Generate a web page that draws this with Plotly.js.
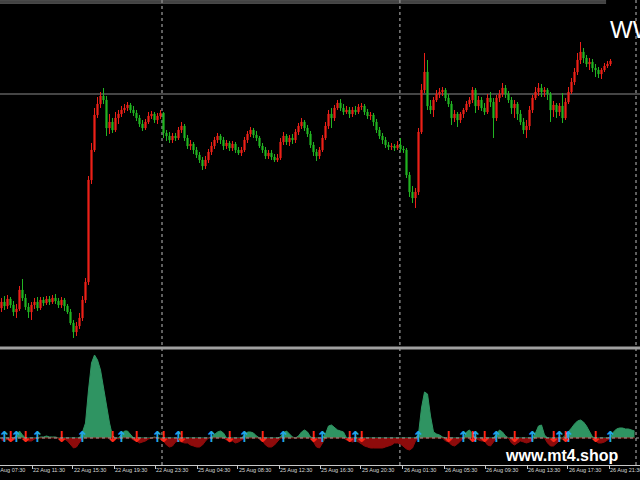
<!DOCTYPE html>
<html><head><meta charset="utf-8">
<script src="https://cdn.plot.ly/plotly-3.0.1.min.js"></script>
<style>html,body{margin:0;padding:0;background:#000;}#chart{width:640px;height:480px;}</style>
</head><body><div id="chart"></div>
<script>
// Price bars (arbitrary price units)
const OPEN = [42,48,44,51,45,38,41,60,52,43,
38,45,48,42,50,47,51,48,52,49,
45,50,44,38,27,18,24,32,50,68,
170,200,235,246,254,250,222,228,220,232,
236,240,242,245,240,237,232,226,222,228,
234,236,230,234,237,217,214,210,214,212,
220,224,212,204,206,200,195,190,184,190,
198,204,210,214,210,204,207,202,206,200,
197,200,210,216,220,215,212,204,200,194,
197,193,190,192,208,214,208,212,210,218,
224,228,222,216,205,198,194,200,212,224,
236,232,242,247,242,238,240,236,240,238,
243,244,238,234,235,228,220,214,210,205,
203,204,202,205,201,200,175,158,152,158,
218,260,278,244,240,250,256,258,260,252,
246,232,236,230,236,240,246,250,260,244,
250,242,238,252,248,232,252,256,262,256,
250,242,246,236,228,220,224,240,252,258,
262,258,260,256,240,245,238,244,232,248,
258,268,278,290,298,292,286,288,282,280,
276,280,284,286];
const HIGH = [52,54,55,53,49,46,64,71,56,47,
48,52,53,53,53,54,54,55,56,52,
53,52,46,41,30,28,37,54,72,174,
207,242,253,258,262,254,236,232,238,240,
244,246,248,247,244,240,235,230,231,238,
239,238,237,240,238,220,218,217,217,223,
228,226,215,210,208,203,198,193,194,201,
208,213,217,216,213,210,209,209,208,203,
203,213,219,223,222,219,214,207,203,200,
200,196,196,212,218,216,215,216,221,227,
232,230,225,219,208,201,203,215,228,240,
242,245,250,251,246,244,243,243,244,246,
247,246,241,238,237,231,223,217,213,208,
207,206,209,212,204,202,178,164,162,222,
266,297,290,250,253,260,262,263,262,256,
249,240,238,238,242,249,253,263,262,254,
253,247,256,258,252,255,260,267,265,259,
253,250,248,240,232,230,244,255,263,267,
266,263,262,258,249,247,247,257,252,263,
272,282,297,308,302,295,292,291,286,283,
282,287,289,291];
const LOW = [38,40,41,42,34,32,39,49,40,32,
30,41,39,40,44,45,45,46,46,42,
42,39,36,25,12,14,21,29,47,65,
166,198,232,242,246,214,216,217,218,226,
233,237,239,237,234,229,223,219,220,226,
231,227,226,231,212,209,207,207,209,210,
217,209,201,200,196,192,187,180,181,187,
195,201,207,206,200,201,199,199,197,195,
194,198,207,213,212,209,202,197,191,191,
190,188,188,190,205,205,204,206,207,215,
221,219,213,202,194,189,191,198,210,221,
222,229,240,239,235,236,232,233,235,236,
240,235,231,230,224,217,211,206,202,200,
200,199,200,198,197,172,153,147,142,155,
216,257,240,236,233,248,252,254,249,243,
225,228,223,227,232,238,243,247,237,240,
239,235,236,243,212,229,248,253,252,247,
236,232,230,225,216,212,220,237,250,254,
253,253,250,228,233,232,234,227,230,246,
256,265,275,286,287,283,280,278,273,272,
271,278,282,284];
const CLOSE = [48,44,51,45,38,41,60,52,43,38,
45,48,42,50,47,51,48,52,49,45,
50,44,38,27,18,24,32,50,68,170,
200,235,246,254,250,222,228,220,232,236,
240,242,245,240,237,232,226,222,228,234,
236,230,234,237,217,214,210,214,212,220,
224,212,204,206,200,195,190,184,190,198,
204,210,214,210,204,207,202,206,200,197,
200,210,216,220,215,212,204,200,194,197,
193,190,192,208,214,208,212,210,218,224,
228,222,216,205,198,194,200,212,224,236,
232,242,247,242,238,240,236,240,238,243,
244,238,234,235,228,220,214,210,205,203,
204,202,205,201,200,175,158,152,158,218,
260,278,244,240,250,256,258,260,252,246,
232,236,230,236,240,246,250,260,244,250,
242,238,252,248,232,252,256,262,256,250,
242,246,236,228,220,224,240,252,258,262,
258,260,256,240,245,238,244,232,248,258,
268,278,290,298,292,286,288,282,280,276,
280,284,286,289];
// Lower oscillator panel (one value per bar)
const OSC = [-2,-3,-1,-3,-2,2,7,3,-2,-3,
-3,-1,0,1,1,2,1,1,1,0,
-2,-1,-3,-7,-10,-9,-4,6,15,48,
75,83,78,68,50,33,15,2,0,-1,
3,7,7,3,-2,-3,-5,-4,-3,-1,
0,1,0,-1,-3,-7,-9,-8,-4,-3,
-4,-5,-5,-7,-8,-9,-9,-7,-3,0,
1,4,6,7,5,-2,-4,-3,-5,-4,
-2,3,6,6,5,2,0,-3,-7,-9,
-9,-7,-3,1,5,7,4,1,0,2,
6,8,6,1,-4,-9,-10,-5,4,12,
13,10,8,7,6,-2,-3,-4,-3,-4,
-6,-8,-9,-10,-10,-10,-10,-10,-9,-8,
-7,-5,-5,-6,-9,-11,-12,-10,-3,4,
30,46,44,22,6,4,3,1,-3,-4,
-7,-8,-6,-3,0,6,8,4,0,-2,
-3,-3,-7,-8,-4,4,8,6,2,0,
-5,-7,-5,-3,-4,-5,-4,-2,5,12,
13,3,-5,-8,-8,-5,-2,0,3,6,
10,14,17,18,16,12,6,1,-3,-5,
-5,-4,-2,1,6,9,10,10,9,9,
8,7];
const UP_ARROWS = [1,5,12,27,40,52,59,70,81,94,107,118,139,154,158,165,177,186,189,203];
const DOWN_ARROWS = [3,8,20,37,45,54,60,76,87,104,116,120,149,157,161,171,184,188,198];
const TICK_LABELS = ["22 Aug 07:30","22 Aug 11:30","22 Aug 15:30","22 Aug 19:30","22 Aug 23:30",
"25 Aug 04:30","25 Aug 08:30","25 Aug 12:30","25 Aug 16:30","25 Aug 20:30",
"26 Aug 01:30","26 Aug 05:30","26 Aug 09:30","26 Aug 13:30","26 Aug 17:30","26 Aug 21:30"];
const TICK_BARS = [-3.2,10.2,23.8,37.5,51.2,65.2,78.8,92.5,106.2,119.8,133.8,147.5,161.2,175.2,188.8,202.5];
const DAY_SEPARATORS = [53.5,132.8,211.5];
const LEVEL = 256;

const XR = [-0.5, 212.83];
const pxPerBar = 640 / (XR[1] - XR[0]);
const bars = OPEN.map((_, i) => i);
const oscX = OSC.map((_, i) => i);
const oscPos = OSC.map(v => v > 0 ? v : 0);
const oscNeg = OSC.map(v => v < 0 ? v : 0);

const traces = [
  {type:'candlestick', x:bars, open:OPEN, high:HIGH, low:LOW, close:CLOSE, xaxis:'x', yaxis:'y',
   increasing:{line:{color:'#ec2119', width:1}, fillcolor:'#ec2119'},
   decreasing:{line:{color:'#22b422', width:1}, fillcolor:'#22b422'},
   whiskerwidth:0, hoverinfo:'skip', showlegend:false},
  {type:'scatter', mode:'lines', x:oscX, y:oscPos, xaxis:'x', yaxis:'y2', fill:'tozeroy',
   fillcolor:'#2f9462', line:{color:'#2f9462', width:1}, hoverinfo:'skip', showlegend:false},
  {type:'scatter', mode:'lines', x:oscX, y:oscNeg, xaxis:'x', yaxis:'y2', fill:'tozeroy',
   fillcolor:'#8e0b0b', line:{color:'#8e0b0b', width:1}, hoverinfo:'skip', showlegend:false},
  {type:'scatter', mode:'text', x:UP_ARROWS, y:UP_ARROWS.map(() => 0), xaxis:'x', yaxis:'y2',
   text:UP_ARROWS.map(() => '↑'), textposition:'middle center',
   textfont:{color:'#22a8e6', size:15, family:'DejaVu Sans', weight:'bold'}, hoverinfo:'skip', showlegend:false},
  {type:'scatter', mode:'text', x:DOWN_ARROWS, y:DOWN_ARROWS.map(() => 0), xaxis:'x', yaxis:'y2',
   text:DOWN_ARROWS.map(() => '↓'), textposition:'middle center',
   textfont:{color:'#ff2a1a', size:15, family:'DejaVu Sans', weight:'bold'}, hoverinfo:'skip', showlegend:false}
];

const shapes = [];
DAY_SEPARATORS.forEach(d => shapes.push({type:'line', xref:'x', yref:'paper', x0:d, x1:d, y0:0, y1:1,
  line:{color:'#bdbdbd', width:1, dash:'dot'}, layer:'below'}));
shapes.push({type:'line', xref:'paper', yref:'y', x0:0, x1:1, y0:LEVEL, y1:LEVEL, line:{color:'#8a8a8a', width:1}, layer:'below'});
shapes.push({type:'line', xref:'paper', yref:'y2', x0:0, x1:1, y0:0, y1:0, line:{color:'#a0a0a0', width:1, dash:'dot'}, layer:'above'});
shapes.push({type:'line', xref:'paper', yref:'paper', x0:0, x1:1, y0:0.2516, y1:0.2516, line:{color:'#a0a0a0', width:3}});
shapes.push({type:'line', xref:'paper', yref:'paper', x0:0, x1:0.947, y0:0.9979, y1:0.9979, line:{color:'#8c8c8c', width:1}});
shapes.push({type:'line', xref:'paper', yref:'paper', x0:0, x1:0.947, y0:0.9935, y1:0.9935, line:{color:'#8c8c8c', width:1}});

const annotations = TICK_LABELS.map((t, k) => {
  const pos = TICK_BARS[k];
  const inRange = pos >= XR[0];
  return {xref:'x', yref:'paper', x: inRange ? pos : XR[0], xshift: inRange ? 0 : (pos - XR[0]) * pxPerBar,
    y:0, yanchor:'top', yshift:-1, xanchor:'left', text:t, showarrow:false, borderpad:0,
    font:{family:'Liberation Sans, Arial, sans-serif', size:5.5, color:'#d8d8d8'}};
});
annotations.push({xref:'paper', yref:'paper', x:0.9516, y:0.9376, xanchor:'left', yanchor:'middle', text:'WW',
  showarrow:false, borderpad:0, font:{family:'Liberation Sans, Arial, sans-serif', size:24, color:'#ffffff'}});
annotations.push({xref:'paper', yref:'paper', x:0.7875, y:0.0194, xanchor:'left', yanchor:'middle', text:'www.mt4.shop',
  showarrow:false, borderpad:0, font:{family:'Liberation Sans, Arial, sans-serif', size:16, color:'#ffffff', weight:'bold'}});

const layout = {
  width:640, height:480, paper_bgcolor:'#000000', plot_bgcolor:'#000000',
  margin:{l:0, r:0, t:0, b:15, pad:0}, showlegend:false, boxgap:0.45,
  xaxis:{range:XR, anchor:'y2', rangeslider:{visible:false}, showgrid:false, zeroline:false,
    showline:true, linecolor:'#c8c8c8', linewidth:1, tickmode:'array', tickvals:TICK_BARS,
    ticks:'outside', ticklen:3, tickcolor:'#c8c8c8', showticklabels:false, fixedrange:true},
  yaxis:{domain:[0.2581, 1], range:[5, 350], visible:false, fixedrange:true},
  yaxis2:{domain:[0, 0.2452], range:[-27, 87], visible:false, fixedrange:true},
  shapes:shapes, annotations:annotations
};

Plotly.newPlot('chart', traces, layout, {displayModeBar:false, staticPlot:true});
</script>
</body></html>
